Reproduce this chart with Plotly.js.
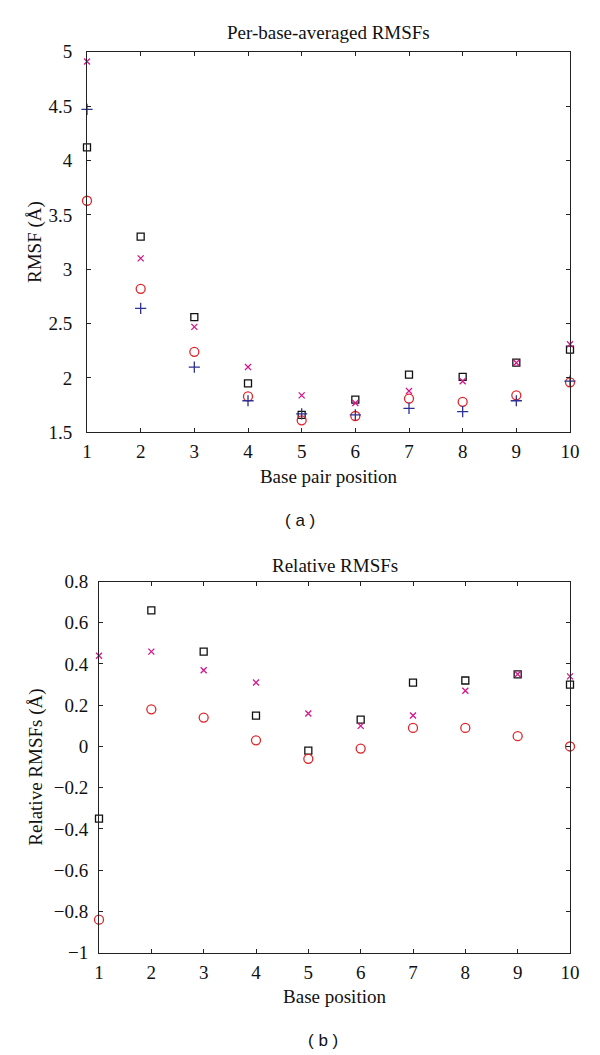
<!DOCTYPE html>
<html>
<head>
<meta charset="utf-8">
<script src="https://cdn.plot.ly/plotly-3.0.1.min.js"></script>
<style>
  html, body { margin: 0; padding: 0; background: #ffffff; }
  #chart { width: 600px; height: 1055px; }
</style>
</head>
<body>
<div id="chart"></div>
<script>
// Base (pair) positions
const positions = [1, 2, 3, 4, 5, 6, 7, 8, 9, 10];

// (a) Per-base-averaged RMSFs
const rmsfSquare = [4.12, 3.30, 2.56, 1.95, 1.66, 1.80, 2.03, 2.01, 2.14, 2.26];
const rmsfCross  = [4.91, 3.10, 2.47, 2.10, 1.84, 1.77, 1.88, 1.97, 2.14, 2.31];
const rmsfCircle = [3.63, 2.82, 2.24, 1.83, 1.61, 1.65, 1.81, 1.78, 1.84, 1.96];
const rmsfPlus   = [4.47, 2.64, 2.10, 1.79, 1.67, 1.66, 1.72, 1.69, 1.79, 1.97];

// (b) Relative RMSFs
const relSquare = [-0.35, 0.66, 0.46, 0.15, -0.02, 0.13, 0.31, 0.32, 0.35, 0.30];
const relCross  = [0.44, 0.46, 0.37, 0.31, 0.16, 0.10, 0.15, 0.27, 0.35, 0.34];
const relCircle = [-0.84, 0.18, 0.14, 0.03, -0.06, -0.01, 0.09, 0.09, 0.05, 0.00];

const tickLabels = ["1", "2", "3", "4", "5", "6", "7", "8", "9", "10"];

const BLACK = "#111111", MAGENTA = "#d4168c", RED = "#e0262b", BLUE = "#2e3192";
const serif = "Liberation Serif, Times New Roman, serif";
const FS = 19;

function mk(x, y, sym, color, size, ax, ay) {
  return {
    x: x, y: y, type: "scatter", mode: "markers", cliponaxis: false,
    xaxis: ax, yaxis: ay, showlegend: false, hoverinfo: "x+y",
    marker: { symbol: sym, size: size, color: color, line: { color: color, width: 1.3 } }
  };
}

const traces = [
  mk(positions, rmsfSquare, "square-open", BLACK, 7, "x", "y"),
  mk(positions, rmsfCross, "x-thin-open", MAGENTA, 6, "x", "y"),
  mk(positions, rmsfCircle, "circle-open", RED, 9, "x", "y"),
  mk(positions, rmsfPlus, "cross-thin-open", BLUE, 8, "x", "y"),
  mk(positions, relSquare, "square-open", BLACK, 7, "x2", "y2"),
  mk(positions, relCross, "x-thin-open", MAGENTA, 6, "x2", "y2"),
  mk(positions, relCircle, "circle-open", RED, 9, "x2", "y2")
];

const W = 600, H = 1055;
function px(v) { return v / W; }
function py(v) { return 1 - v / H; }

const axisCommon = {
  showline: true, linecolor: "#222", linewidth: 1, mirror: "ticks",
  ticks: "inside", ticklen: 4, tickcolor: "#222", tickwidth: 1,
  showgrid: false, zeroline: false, fixedrange: true,
  tickfont: { family: serif, size: FS, color: "#111" }
};
const titleFont = { family: serif, size: FS, color: "#111" };

const layout = {
  width: W, height: H,
  margin: { l: 0, r: 0, t: 0, b: 0 },
  paper_bgcolor: "#ffffff", plot_bgcolor: "#ffffff",
  font: { family: serif, color: "#111" },
  xaxis: Object.assign({}, axisCommon, {
    domain: [px(87), px(570)], anchor: "y", range: [1, 10],
    tickvals: positions, ticktext: tickLabels, ticklabelstandoff: 2,
    title: { text: "Base pair position", font: titleFont, standoff: 8 }
  }),
  yaxis: Object.assign({}, axisCommon, {
    domain: [py(432.3), py(51.8)], anchor: "x", range: [1.5, 5],
    tick0: 1.5, dtick: 0.5, ticklabelstandoff: 10,
    title: { text: "RMSF (Å)", font: titleFont, standoff: 1 }
  }),
  xaxis2: Object.assign({}, axisCommon, {
    domain: [px(99), px(570)], anchor: "y2", range: [1, 10],
    tickvals: positions, ticktext: tickLabels, ticklabelstandoff: 2,
    title: { text: "Base position", font: titleFont, standoff: 8 }
  }),
  yaxis2: Object.assign({}, axisCommon, {
    domain: [py(952.7), py(581.5)], anchor: "x2", range: [-1, 0.8],
    tick0: -1, dtick: 0.2, ticklabelstandoff: 6,
    title: { text: "Relative RMSFs (Å)", font: titleFont, standoff: 6 }
  }),
  annotations: [
    { text: "Per-base-averaged RMSFs", xref: "paper", yref: "paper", x: px(328), y: py(33),
      showarrow: false, xanchor: "center", yanchor: "middle", font: titleFont },
    { text: "Relative RMSFs", xref: "paper", yref: "paper", x: px(335), y: py(565),
      showarrow: false, xanchor: "center", yanchor: "middle", font: titleFont },
    { text: "( a )", xref: "paper", yref: "paper", x: px(300), y: py(520),
      showarrow: false, xanchor: "center", yanchor: "middle", font: { family: "Liberation Sans, Arial, sans-serif", size: 17, color: "#111" } },
    { text: "( b )", xref: "paper", yref: "paper", x: px(323), y: py(1040),
      showarrow: false, xanchor: "center", yanchor: "middle", font: { family: "Liberation Sans, Arial, sans-serif", size: 17, color: "#111" } }
  ]
};

Plotly.newPlot("chart", traces, layout, { displayModeBar: false, staticPlot: true });
</script>
</body>
</html>
